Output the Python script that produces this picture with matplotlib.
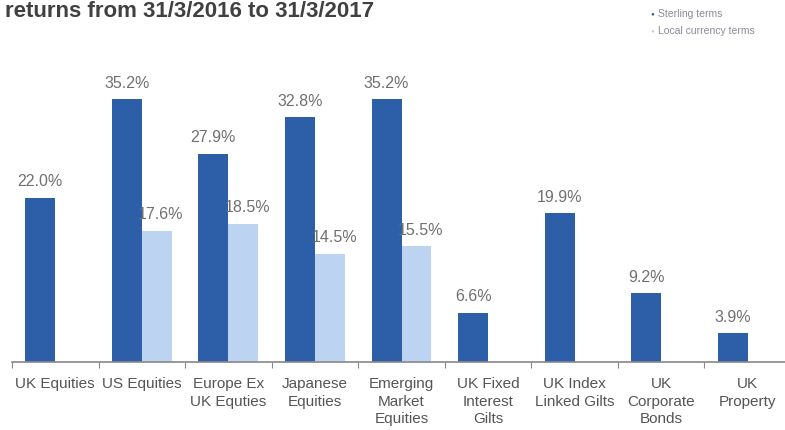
import matplotlib
matplotlib.use("Agg")
import matplotlib.pyplot as plt
import numpy as np

categories = ["UK Equities", "US Equities", "Europe Ex\nUK Equties", "Japanese\nEquities",
              "Emerging\nMarket\nEquities", "UK Fixed\nInterest\nGilts", "UK Index\nLinked Gilts",
              "UK\nCorporate\nBonds", "UK\nProperty"]
sterling = [22.0, 35.2, 27.9, 32.8, 35.2, 6.6, 19.9, 9.2, 3.9]
local = [None, 17.6, 18.5, 14.5, 15.5, None, None, None, None]
series_names = ["Sterling terms", "Local currency terms"]

dark = "#2d5fa8"
light = "#bcd3f2"

plt.rcParams['font.family'] = ['Liberation Sans', 'DejaVu Sans']

W, H = 785, 430
fig = plt.figure(figsize=(W / 100, H / 100), dpi=100)
ax = fig.add_axes([12 / W, 68 / H, (785 - 12) / W, (362 - 40) / H])

x = np.arange(len(categories))
bw = 0.346
for i, v in enumerate(sterling):
    ax.bar(x[i] - bw / 2, v, width=bw, color=dark, zorder=2)
    ax.annotate(f"{v:.1f}%", (x[i] - bw / 2, v), xytext=(0, 6), textcoords="offset points",
                ha="center", va="bottom", fontsize=11.5, color="#707070")
for i, v in enumerate(local):
    if v is None:
        continue
    ax.bar(x[i] + bw / 2, v, width=bw, color=light, zorder=2)
    ax.annotate(f"{v:.1f}%", (x[i] + bw / 2, v), xytext=(3, 6), textcoords="offset points",
                ha="center", va="bottom", fontsize=11.5, color="#707070")

ax.set_xlim(-0.5, 8.43)
ax.set_ylim(0, 43.1)
for s in ["top", "right", "left"]:
    ax.spines[s].set_visible(False)
ax.spines["bottom"].set_color("#888888")
ax.spines["bottom"].set_linewidth(1.2)
ax.set_yticks([])
ax.set_xticks(np.arange(-0.5, 8.5, 1.0))
ax.set_xticklabels([])
ax.tick_params(axis="x", length=4, color="#888888", direction="out")
ax.set_xticks(x, minor=True)
ax.set_xticklabels(categories, minor=True, fontsize=11, color="#555555", linespacing=1.32)
ax.tick_params(axis="x", which="minor", length=0, pad=11)

fig.text(5 / W, 1 - 1 / H, "returns from 31/3/2016 to 31/3/2017", fontsize=16, fontweight="bold",
         color="#404040", ha="left", va="top")

# legend
fig.text(652 / W, 1 - 14 / H, "\u25CF", fontsize=4.5, color=dark, ha="center", va="center")
fig.text(658 / W, 1 - 14 / H, series_names[0], fontsize=7.5, color="#8a8a9a", ha="left", va="center")
fig.text(652 / W, 1 - 31 / H, "\u25CF", fontsize=4.5, color=light, ha="center", va="center")
fig.text(658 / W, 1 - 31 / H, series_names[1], fontsize=7.5, color="#8a8a9a", ha="left", va="center")

fig.savefig("out.png", dpi=100)
